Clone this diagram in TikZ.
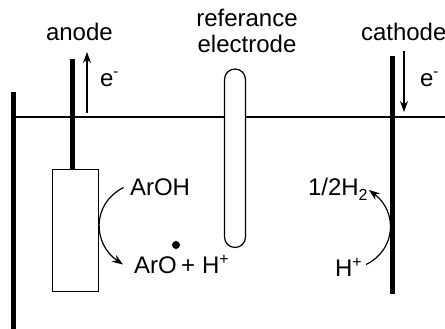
\documentclass[tikz,border=0pt]{standalone}
\usepackage{fontspec}
\setmainfont{Liberation Sans}
\usetikzlibrary{arrows.meta}
\tikzset{
  lbl/.style={anchor=base west,inner sep=0pt,outer sep=0pt,text=black,font=\fontsize{24}{27}\selectfont},
  clbl/.style={anchor=base,inner sep=0pt,outer sep=0pt,text=black,font=\fontsize{24}{27}\selectfont},
  heavy/.style={line width=5pt},
  surface/.style={line width=2pt},
  outline/.style={line width=1.2pt},
  flow/.style={line width=1.6pt,-{Stealth[length=11pt,width=8pt]}},
  react/.style={line width=1.2pt,-{Stealth[length=11pt,width=8pt]}}
}
\begin{document}
\begin{tikzpicture}[x=1pt,y=-1pt]
\useasboundingbox (0,0) rectangle (445,329);
\coordinate (liqL) at (13.5,117);
\coordinate (liqR) at (445,117);
\coordinate (wallT) at (13.5,92);
\coordinate (wallB) at (13.5,329);
\coordinate (anT) at (72,59);
\coordinate (caT) at (392.3,56);
\coordinate (caB) at (392.3,294);
\coordinate (eaS) at (87,113);
\coordinate (eaE) at (87,52);
\coordinate (ecS) at (404,51);
\coordinate (ecE) at (404,112);
\draw[surface] (liqL) -- (liqR);
\draw[heavy] (wallT) -- (wallB);
\node[draw=black,outline,fill=white,minimum width=46.5pt,minimum height=122.5pt,inner sep=0pt,anchor=north west] (anodebox) at (51.5,168.5) {};
\draw[heavy] (anT) -- (anodebox.north -| anT);
\draw[heavy] (caT) -- (caB);
\draw[outline,fill=white,rounded corners=10.5pt] (224.5,247.5) -- (224.5,69) -- (245.5,69) -- (245.5,247.5) -- cycle;
\draw[flow] (eaS) -- (eaE);
\draw[flow] (ecS) -- (ecE);
\node[lbl] (anode) at (46,41) {anode};
\node[clbl] (ref1) at (247,27) {referance};
\node[clbl] (ref2) at (247,53) {electrode};
\node[lbl] (cathode) at (361,41) {cathode};
\node[lbl] (e1) at (100,87) {e\raisebox{10pt}{\fontsize{15}{15}\selectfont -}};
\node[lbl] (e2) at (420,87) {e\raisebox{10pt}{\fontsize{15}{15}\selectfont -}};
\node[lbl] (aroh) at (130,195) {ArOH};
\node[lbl] (aro) at (134,273) {ArO};
\node[lbl] (hplusA) at (181,273) {+\kern7pt H\raisebox{9pt}{\fontsize{16}{16}\selectfont +}};
\fill (176,245) circle (4pt);
\node[lbl] (halfh) at (308,195) {1/2H\raisebox{-5pt}{\fontsize{16}{16}\selectfont 2}};
\node[lbl] (hplusB) at (335,276) {H\raisebox{9pt}{\fontsize{16}{16}\selectfont +}};
\coordinate (r1s) at (123.5,187.5);
\coordinate (r1e) at (123,264.5);
\coordinate (r2s) at (366,264.5);
\coordinate (r2e) at (369,190);
\draw[react] (r1s) .. controls (90,205) and (94,245) .. (r1e);
\draw[react] (r2s) .. controls (396,250) and (398,212) .. (r2e);
\end{tikzpicture}
\end{document}
